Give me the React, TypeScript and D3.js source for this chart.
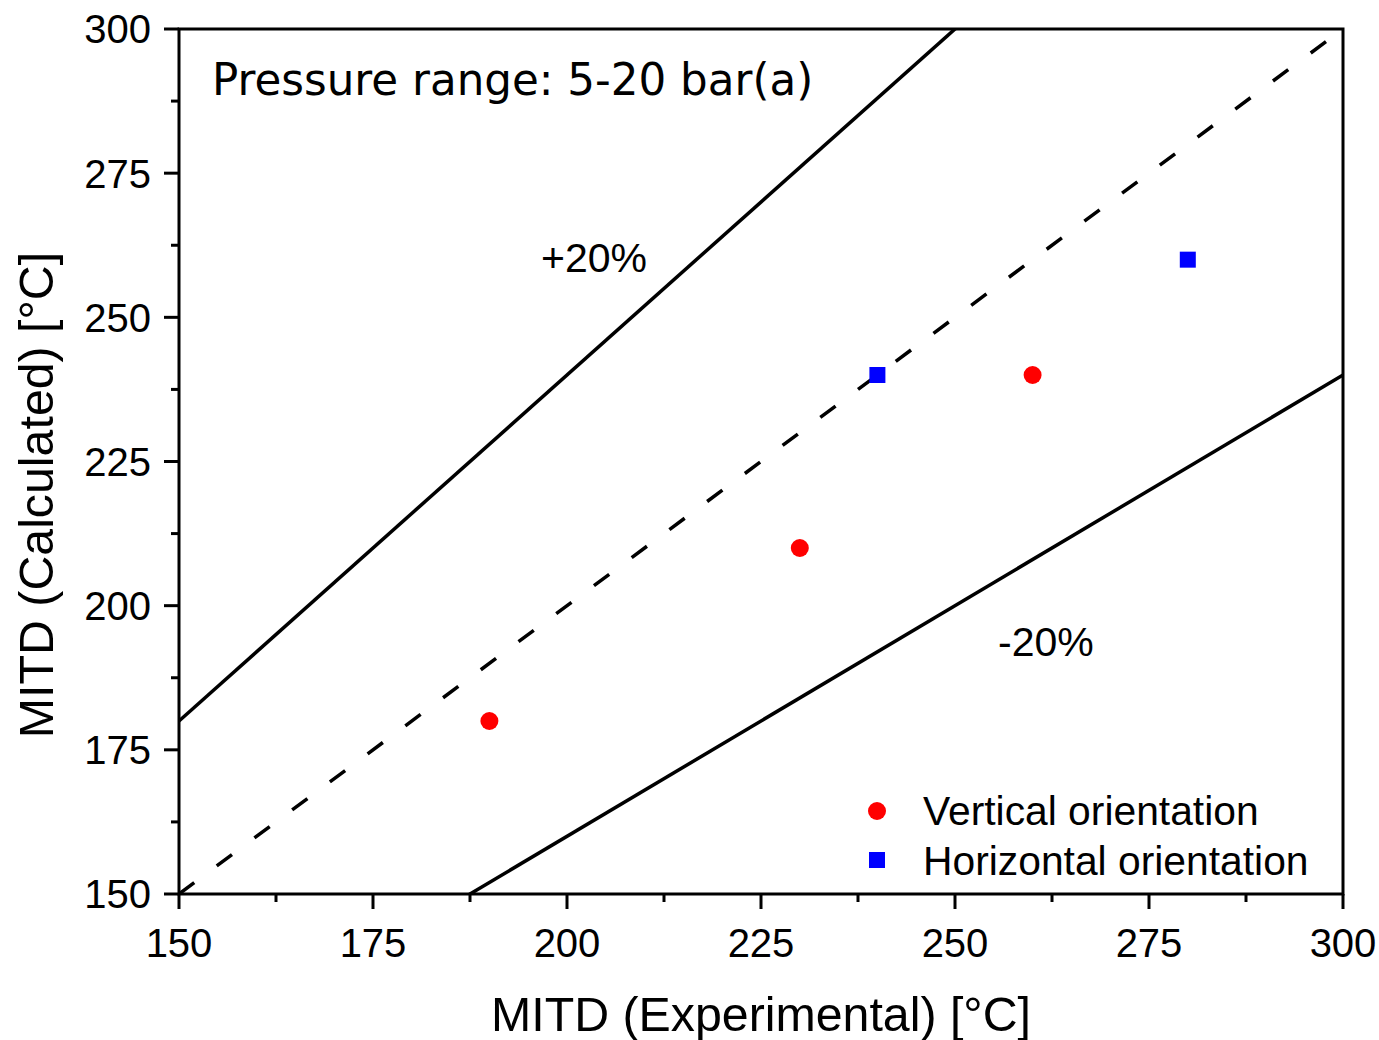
import React from "react";
import * as d3 from "d3";

const xTicks = [150, 175, 200, 225, 250, 275, 300];
const yTicks = [150, 175, 200, 225, 250, 275, 300];
const verticalX = [190, 230, 260];
const verticalY = [180, 210, 240];
const horizontalX = [240, 280];
const horizontalY = [240, 260];
const guideRatios = [1.2, 1.0, 0.8];
const guideDashed = [false, true, false];
const seriesNames = ["Vertical orientation", "Horizontal orientation"];
const seriesColors = ["#ff0000", "#0000ff"];

const W = 1379;
const H = 1040;
const M = { left: 179, right: 1343, top: 29, bottom: 894 };

export default function App() {
  const x = d3.scaleLinear().domain([150, 300]).range([M.left, M.right]);
  const y = d3.scaleLinear().domain([150, 300]).range([M.bottom, M.top]);
  const minorX = d3.range(150, 300.01, 12.5).filter((v) => v % 25 !== 0);
  const minorY = d3.range(150, 300.01, 12.5).filter((v) => v % 25 !== 0);
  const line = d3
    .line<[number, number]>()
    .x((d) => x(d[0]))
    .y((d) => y(d[1]));
  const arial = "'Liberation Sans', Arial, sans-serif";
  const dejavu = "'DejaVu Sans', Verdana, sans-serif";

  return (
    <svg
      width={W}
      height={H}
      style={{ position: "absolute", left: 0, top: 0, background: "#fff" }}
    >
      <defs>
        <clipPath id="plot">
          <rect x={M.left} y={M.top} width={M.right - M.left} height={M.bottom - M.top} />
        </clipPath>
      </defs>
      <rect x={0} y={0} width={W} height={H} fill="#fff" />
      <g clipPath="url(#plot)">
        {guideRatios.map((r, i) => (
          <path
            key={i}
            d={line([
              [150, 150 * r],
              [350, 350 * r],
            ]) as string}
            fill="none"
            stroke="#000"
            strokeWidth={3.5}
            strokeDasharray={guideDashed[i] ? "19 28" : undefined}
          />
        ))}
      </g>
      {/* frame */}
      <rect
        x={M.left}
        y={M.top}
        width={M.right - M.left}
        height={M.bottom - M.top}
        fill="none"
        stroke="#000"
        strokeWidth={3}
      />
      {/* x ticks */}
      {xTicks.map((t) => (
        <g key={"xt" + t}>
          <line x1={x(t)} x2={x(t)} y1={M.bottom} y2={M.bottom + 15} stroke="#000" strokeWidth={3} />
          <text
            x={x(t)}
            y={957}
            textAnchor="middle"
            fontFamily={arial}
            fontSize={40}
          >
            {t}
          </text>
        </g>
      ))}
      {minorX.map((t) => (
        <line key={"xm" + t} x1={x(t)} x2={x(t)} y1={M.bottom} y2={M.bottom + 8} stroke="#000" strokeWidth={3} />
      ))}
      {/* y ticks */}
      {yTicks.map((t) => (
        <g key={"yt" + t}>
          <line x1={M.left - 15} x2={M.left} y1={y(t)} y2={y(t)} stroke="#000" strokeWidth={3} />
          <text
            x={151}
            y={y(t)}
            dy="0.36em"
            textAnchor="end"
            fontFamily={arial}
            fontSize={40}
          >
            {t}
          </text>
        </g>
      ))}
      {minorY.map((t) => (
        <line key={"ym" + t} x1={M.left - 8} x2={M.left} y1={y(t)} y2={y(t)} stroke="#000" strokeWidth={3} />
      ))}
      {/* axis titles */}
      <text x={761} y={1031} textAnchor="middle" fontFamily={arial} fontSize={48.3}>
        MITD (Experimental) [°C]
      </text>
      <text
        transform="translate(53,495) rotate(-90)"
        textAnchor="middle"
        fontFamily={arial}
        fontSize={48.3}
      >
        MITD (Calculated) [°C]
      </text>
      {/* annotations */}
      <text x={212} y={95} fontFamily={dejavu} fontSize={43.6}>
        Pressure range: 5-20 bar(a)
      </text>
      <text x={541} y={272} fontFamily={arial} fontSize={41}>
        +20%
      </text>
      <text x={998} y={656} fontFamily={arial} fontSize={41}>
        -20%
      </text>
      {/* points */}
      {verticalX.map((v, i) => (
        <circle key={"v" + i} cx={x(v)} cy={y(verticalY[i])} r={9} fill={seriesColors[0]} />
      ))}
      {horizontalX.map((v, i) => (
        <rect
          key={"h" + i}
          x={x(v) - 8}
          y={y(horizontalY[i]) - 8}
          width={16}
          height={16}
          fill={seriesColors[1]}
        />
      ))}
      {/* legend */}
      <circle cx={877} cy={811} r={9} fill={seriesColors[0]} />
      <rect x={869} y={852} width={16} height={16} fill={seriesColors[1]} />
      <text x={923} y={825} fontFamily={arial} fontSize={40.8}>
        {seriesNames[0]}
      </text>
      <text x={923} y={875} fontFamily={arial} fontSize={40.8}>
        {seriesNames[1]}
      </text>
    </svg>
  );
}
